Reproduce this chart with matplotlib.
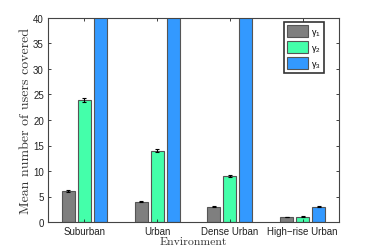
import matplotlib
matplotlib.use("Agg")
import matplotlib.pyplot as plt
import numpy as np

environments = ["Suburban", "Urban", "Dense Urban", "High\u2212rise Urban"]
gamma1 = [6, 4, 3, 1]
gamma2 = [24, 14, 9, 1]
gamma3 = [60, 60, 60, 3]
err1 = [0.2, 0.15, 0.1, 0.05]
err2 = [0.4, 0.3, 0.2, 0.1]
err3 = [0.3, 0.3, 0.3, 0.1]
series_labels = [r"$\gamma_1$", r"$\gamma_2$", r"$\gamma_3$"]
colors = ["#7f7f7f", "#44ffaa", "#3399ff"]

plt.rcParams["font.family"] = ["Liberation Sans", "DejaVu Sans"]
plt.rcParams["mathtext.fontset"] = "custom"
plt.rcParams["mathtext.rm"] = "Liberation Sans"
plt.rcParams["mathtext.it"] = "Liberation Sans"

fig = plt.figure(figsize=(3.74, 2.51), dpi=100)
ax = fig.add_axes([48 / 374, 1 - 223 / 251, 291 / 374, 204 / 251])

x = np.arange(1, len(environments) + 1)
width = 0.18
offs = [-0.22, 0.0, 0.22]
for vals, errs, off, col, lab in zip([gamma1, gamma2, gamma3], [err1, err2, err3],
                                      offs, colors, series_labels):
    ax.bar(x + off, vals, width, color=col, edgecolor="#555555", linewidth=0.8,
           label=lab, yerr=errs, error_kw=dict(ecolor="black", elinewidth=0.8,
                                               capsize=1.5, capthick=0.8))

ax.set_xlim(0.5, 4.5)
ax.set_ylim(0, 40)
ax.set_yticks(range(0, 41, 5))
ax.set_xticks(x)
ax.set_xticklabels(environments)
ax.tick_params(direction="in", top=True, right=True, length=2.5, width=0.6,
               labelsize=7, pad=3, colors="#222222")
for s in ax.spines.values():
    s.set_color("#444444")
    s.set_linewidth(0.8)

ax.set_ylabel("Mean number of users covered", family="cmr10", fontsize=10,
              labelpad=1, color="#333333")
ax.set_xlabel("Environment", family="cmr10", fontsize=8.5, labelpad=0,
              color="#333333")

leg = ax.legend(loc="upper right", fontsize=6.5, handlelength=2.4, handleheight=1.7,
                labelspacing=0.3, fancybox=False, borderpad=0.35,
                handletextpad=0.3, borderaxespad=0,
                bbox_to_anchor=(324 / 374, 1 - 23 / 251),
                bbox_transform=fig.transFigure)
leg.get_frame().set_edgecolor("black")
leg.get_frame().set_linewidth(1.2)

fig.savefig("out.png", dpi=100)
